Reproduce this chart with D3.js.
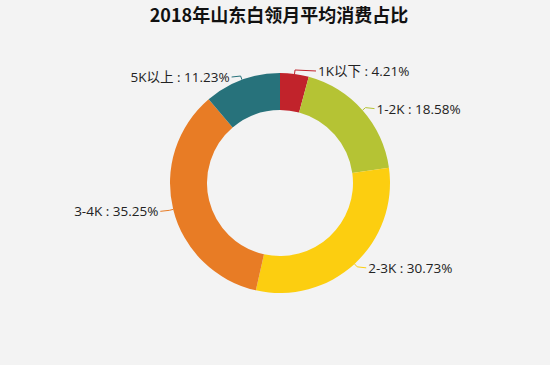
<!DOCTYPE html>
<html><head><meta charset="utf-8">
<script src="https://cdn.jsdelivr.net/npm/d3@7/dist/d3.min.js"></script>
<style>
html,body{margin:0;padding:0;background:#f3f3f3;}
svg{display:block;}
</style></head>
<body>
<svg id="chart" width="550" height="365"></svg>
<script>
const title = "2018年山东白领月平均消费占比";
const categories = ["1K以下", "1-2K", "2-3K", "3-4K", "5K以上"];
const values = [4.21, 18.58, 30.73, 35.25, 11.23];
const colors = ["#c1232b", "#b5c334", "#fcce10", "#e87c25", "#27727b"];

const W = 550, H = 365;
const cx = 280, cy = 183, R = 110, r0 = 73;
const svg = d3.select("#chart");
svg.append("rect").attr("width", W).attr("height", H).attr("fill", "#f3f3f3");

svg.append("text").attr("x", 279).attr("y", 14).attr("text-anchor", "middle")
  .attr("dominant-baseline", "central")
  .attr("font-family", "'Noto Sans CJK SC', sans-serif").attr("font-weight", "bold")
  .attr("font-size", 18).attr("fill", "#111").text(title);

const pie = d3.pie().sort(null).value(d => d)(values);
const arc = d3.arc().innerRadius(r0).outerRadius(R);
const g = svg.append("g").attr("transform", `translate(${cx},${cy})`);
g.selectAll("path.slice").data(pie).join("path").attr("class", "slice")
  .attr("d", arc).attr("fill", (d, i) => colors[i]);

const L1 = 4, L2 = 9, minX = 36;
pie.forEach((d, i) => {
  const a = (d.startAngle + d.endAngle) / 2;
  const p1 = [R * Math.sin(a), -R * Math.cos(a)];
  const p2 = [(R + L1) * Math.sin(a), -(R + L1) * Math.cos(a)];
  const right = Math.sin(a) >= 0;
  const p3 = [right ? Math.max(p2[0] + L2, minX) : Math.min(p2[0] - L2, -minX), p2[1] + 1];
  g.append("polyline").attr("points", [p1, p2, p3].map(p => p.join(",")).join(" "))
    .attr("fill", "none").attr("stroke", colors[i]).attr("stroke-width", 1);
  g.append("text").attr("x", p3[0] + (right ? 2 : -2)).attr("y", p3[1])
    .attr("text-anchor", right ? "start" : "end").attr("dominant-baseline", "central")
    .attr("font-family", "'Open Sans', 'Noto Sans CJK SC', sans-serif").attr("font-size", 13.5)
    .attr("fill", "#222").text(`${categories[i]} : ${values[i].toFixed(2)}%`);
});
</script>
</body></html>
